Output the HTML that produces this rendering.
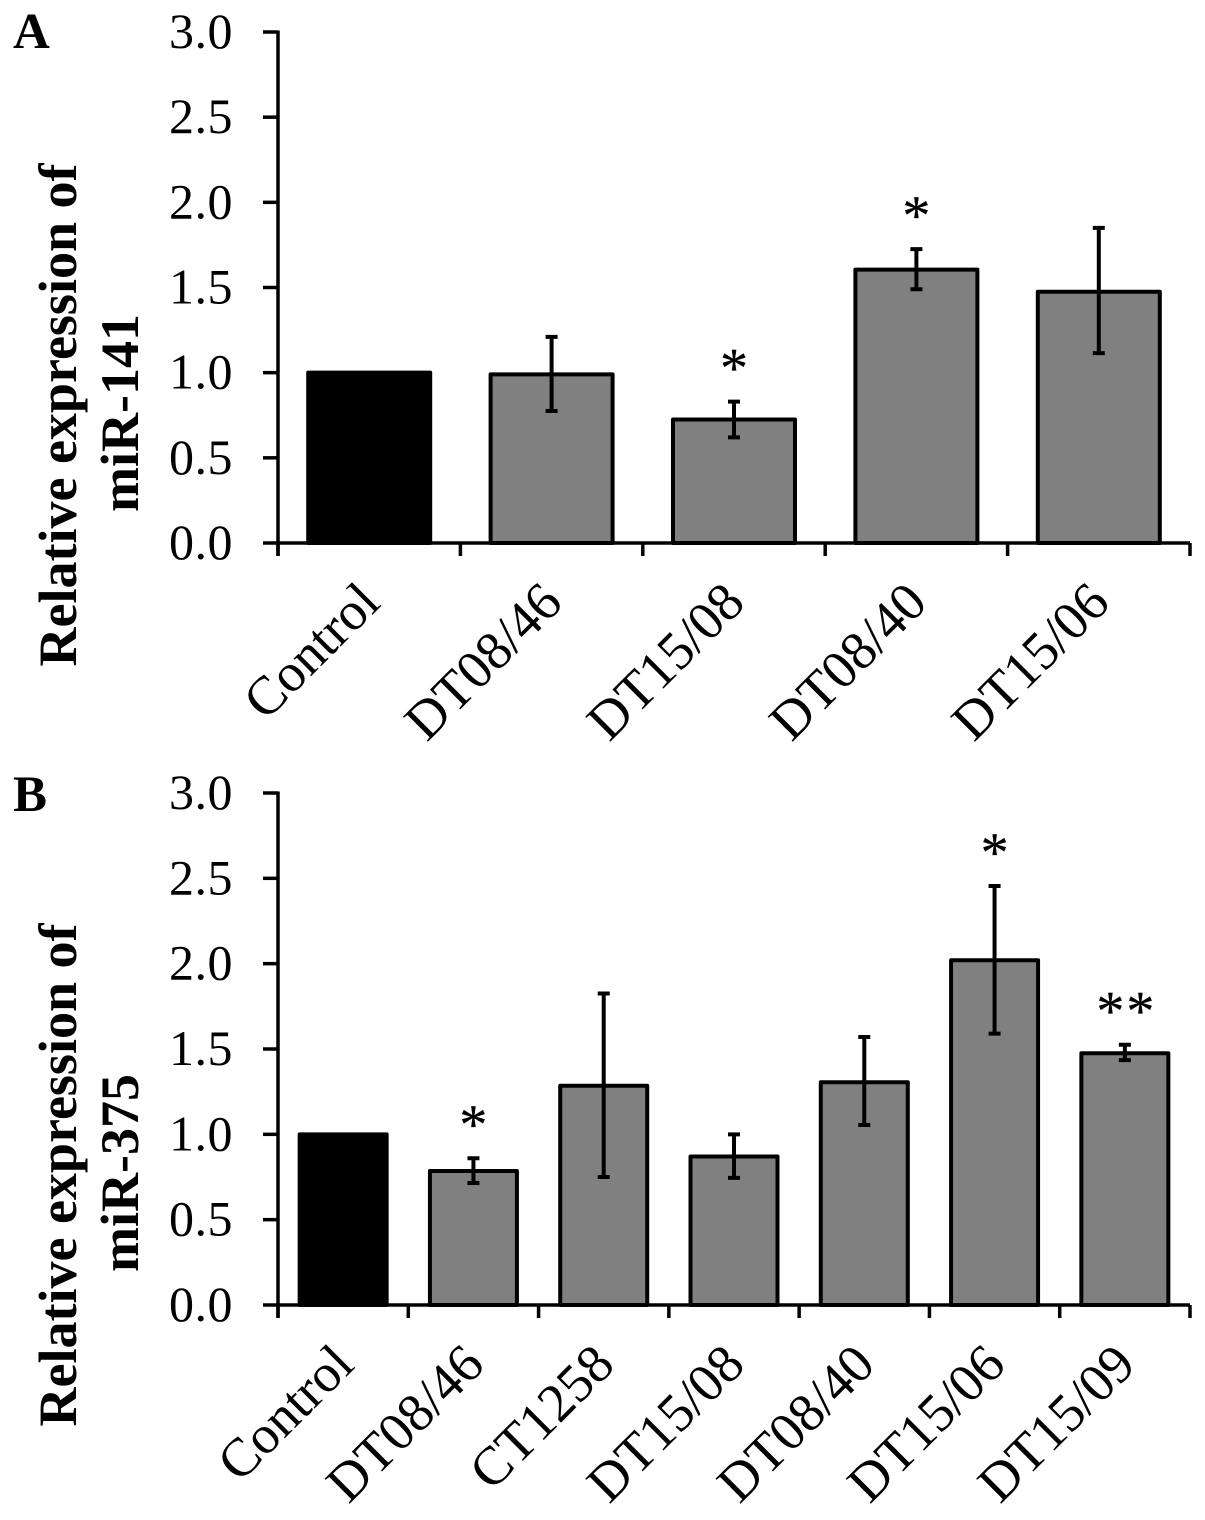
<!DOCTYPE html>
<html lang="en">
<head>
<meta charset="utf-8">
<title>Relative expression of miR-141 and miR-375</title>
<style>
html,body{margin:0;padding:0;background:#fff;}
body{width:1205px;height:1520px;overflow:hidden;}
svg{display:block;}
text{font-family:"Liberation Serif","Times New Roman",serif;fill:#000;}
</style>
</head>
<body>
<svg id="figure" xmlns="http://www.w3.org/2000/svg" width="1205" height="1520" viewBox="0 0 1205 1520"></svg>
<script>
const tickLabels = ['0.0','0.5','1.0','1.5','2.0','2.5','3.0'];
const tickValues = [0,0.5,1,1.5,2,2.5,3];

const categoriesA = ['Control','DT08/46','DT15/08','DT08/40','DT15/06'];
const valuesA = [1.0,0.99,0.725,1.605,1.475];
const errHighA = [null,1.21,0.83,1.725,1.85];
const errLowA = [null,0.775,0.62,1.49,1.115];
const starsA = ['','','*','*',''];

const categoriesB = ['Control','DT08/46','CT1258','DT15/08','DT08/40','DT15/06','DT15/09'];
const valuesB = [1.0,0.785,1.285,0.87,1.305,2.02,1.475];
const errHighB = [null,0.86,1.825,1.0,1.57,2.455,1.525];
const errLowB = [null,0.715,0.75,0.745,1.055,1.59,1.435];
const starsB = ['','*','','','','*','**'];

const NS = 'http://www.w3.org/2000/svg';
const svg = document.getElementById('figure');

function make(parent, tag, attrs, text) {
  const el = document.createElementNS(NS, tag);
  for (const k in attrs) el.setAttribute(k, attrs[k]);
  if (text !== undefined) el.textContent = text;
  parent.appendChild(el);
  return el;
}

function drawPanel(cfg) {
  const g = make(svg, 'g', {});
  
  

  const n = cfg.categories.length;
  const yScale = v => cfg.y0 - v * (cfg.y0 - cfg.y3) / 3;
  const step = (cfg.xEnd - cfg.x0) / n;
  const xCenter = i => cfg.x0 + step * (i + 0.5);

  const letter = make(g, 'text', {x: 13, y: cfg.letterY, 'font-size': 51, 'font-weight': 'bold'}, cfg.id);
  
  

  // bars
  cfg.values.forEach((v, i) => {
    const top = yScale(v);
    const bar = make(g, 'rect', {
      x: xCenter(i) - cfg.barW / 2, y: top, width: cfg.barW, height: cfg.y0 - top,
      fill: i === 0 ? '#000' : '#808080', stroke: '#000', 'stroke-width': 4, 'stroke-linejoin': 'round'
    });
    
    
  });

  // error bars
  cfg.values.forEach((v, i) => {
    if (cfg.errHigh[i] === null) return;
    const cx = xCenter(i);
    const hi = yScale(cfg.errHigh[i]);
    const lo = yScale(cfg.errLow[i]);
    const eb = make(g, 'path', {
      d: 'M' + cx + ' ' + hi + 'V' + lo + 'M' + (cx - 6) + ' ' + hi + 'H' + (cx + 6) + 'M' + (cx - 6) + ' ' + lo + 'H' + (cx + 6),
      fill: 'none', stroke: '#000', 'stroke-width': 4
    });
    
    
  });

  // significance stars
  cfg.stars.forEach((s, i) => {
    if (!s) return;
    const t = make(g, 'text', {
      x: xCenter(i) + (s.length > 1 ? 1.5 : 0), y: yScale(cfg.errHigh[i]) - 15, 'text-anchor': 'middle',
      'font-size': 56, 'letter-spacing': s.length > 1 ? 2 : 0, stroke: '#000', 'stroke-width': 0.3
    }, s);
    
    
  });

  // axes
  const yAxis = make(g, 'line', {x1: cfg.x0, x2: cfg.x0, y1: cfg.y3 - 1.5, y2: cfg.y0 + 13, stroke: '#000', 'stroke-width': 3.5});
  
  
  const xAxis = make(g, 'line', {x1: cfg.x0, x2: cfg.xEnd, y1: cfg.y0, y2: cfg.y0, stroke: '#000', 'stroke-width': 3.5});
  
  

  tickValues.forEach((v, i) => {
    const y = yScale(v);
    const tick = make(g, 'line', {x1: cfg.x0 - 15, x2: cfg.x0, y1: y, y2: y, stroke: '#000', 'stroke-width': 3.5});
    
    
    const label = make(g, 'text', {x: 233, y: y + 16, 'text-anchor': 'end', 'font-size': 50, 'letter-spacing': 0.5}, tickLabels[i]);
    
    
  });

  for (let i = 0; i <= n; i++) {
    const x = cfg.x0 + step * i;
    const tick = make(g, 'line', {x1: x, x2: x, y1: cfg.y0, y2: cfg.y0 + 13, stroke: '#000', 'stroke-width': 3.5});
    
    
  }

  cfg.categories.forEach((c, i) => {
    const ax = xCenter(i) + 13;
    const ay = cfg.y0 + 62;
    const label = make(g, 'text', {
      x: ax, y: ay, 'text-anchor': 'end', 'font-size': 54,
      transform: 'rotate(-45 ' + ax + ' ' + ay + ')'
    }, c);
    
    
  });

  // y axis title
  const title = make(g, 'text', {
    'text-anchor': 'middle', 'font-size': 54, 'font-weight': 'bold',
    transform: 'translate(0 ' + cfg.titleY + ') rotate(-90)'
  });
  
  
  make(title, 'tspan', {x: 0, y: 76}, 'Relative expression of');
  make(title, 'tspan', {x: 2, y: 138}, cfg.gene);
}

drawPanel({
  id: 'A', gene: 'miR-141', categories: categoriesA, values: valuesA,
  errHigh: errHighA, errLow: errLowA, stars: starsA,
  x0: 278, xEnd: 1190, y0: 543, y3: 32, barW: 122, letterY: 48, titleY: 415
});
drawPanel({
  id: 'B', gene: 'miR-375', categories: categoriesB, values: valuesB,
  errHigh: errHighB, errLow: errLowB, stars: starsB,
  x0: 278, xEnd: 1190, y0: 1305, y3: 793, barW: 87, letterY: 811, titleY: 1175
});
</script>
</body>
</html>
